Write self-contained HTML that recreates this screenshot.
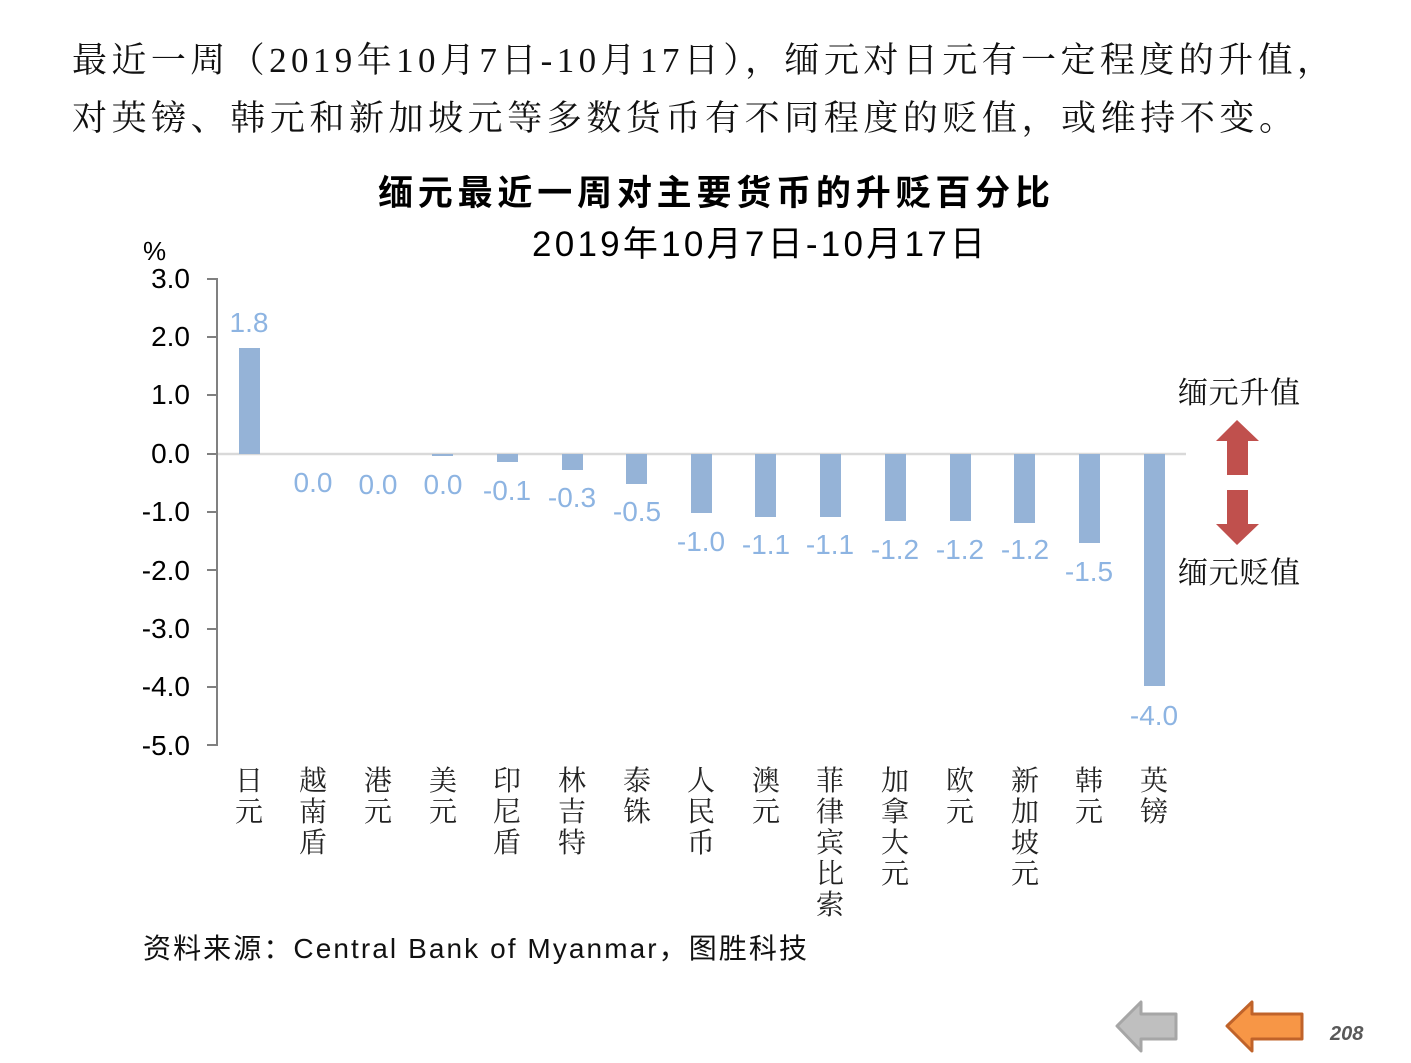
<!DOCTYPE html>
<html><head><meta charset="utf-8"><style>
body{margin:0;background:#fff;width:1411px;height:1058px;overflow:hidden}
</style></head><body>
<svg width="1411" height="1058" xmlns="http://www.w3.org/2000/svg" font-family="Liberation Sans, Noto Sans CJK SC, sans-serif">
<g font-family="Liberation Serif, Noto Serif CJK SC, serif" font-size="35" fill="#111">
<text x="72" y="72" textLength="1260" lengthAdjust="spacing">最近一周（2019年10月7日-10月17日），缅元对日元有一定程度的升值，</text>
<text x="72" y="130" textLength="1222" lengthAdjust="spacing">对英镑、韩元和新加坡元等多数货币有不同程度的贬值，或维持不变。</text>
</g>
<text x="378" y="205" font-size="35" font-weight="bold" textLength="672" lengthAdjust="spacing">缅元最近一周对主要货币的升贬百分比</text>
<text x="532" y="256" font-size="35" textLength="453" lengthAdjust="spacing">2019年10月7日-10月17日</text>
<text x="143" y="260" font-size="26">%</text>
<g font-size="28" text-anchor="end" fill="#000">
<text x="190" y="288">3.0</text><text x="190" y="346">2.0</text><text x="190" y="404">1.0</text><text x="190" y="463">0.0</text>
<text x="190" y="521">-1.0</text><text x="190" y="580">-2.0</text><text x="190" y="638">-3.0</text><text x="190" y="696">-4.0</text><text x="190" y="755">-5.0</text>
</g>
<g stroke="#808080" stroke-width="2">
<line x1="217" y1="278" x2="217" y2="746"/>
<line x1="207" y1="279" x2="217" y2="279"/><line x1="207" y1="337" x2="217" y2="337"/><line x1="207" y1="395" x2="217" y2="395"/><line x1="207" y1="454" x2="217" y2="454"/>
<line x1="207" y1="512" x2="217" y2="512"/><line x1="207" y1="570" x2="217" y2="570"/><line x1="207" y1="629" x2="217" y2="629"/><line x1="207" y1="687" x2="217" y2="687"/><line x1="207" y1="745" x2="217" y2="745"/>
</g>
<line x1="218" y1="454" x2="1186" y2="454" stroke="#d9d9d9" stroke-width="2.5"/>
<g fill="#95b3d7">
<rect x="239" y="348" width="21" height="106"/>
<rect x="432" y="454" width="21" height="2"/>
<rect x="497" y="454" width="21" height="8"/>
<rect x="562" y="454" width="21" height="16"/>
<rect x="626" y="454" width="21" height="30"/>
<rect x="691" y="454" width="21" height="59"/>
<rect x="755" y="454" width="21" height="63"/>
<rect x="820" y="454" width="21" height="63"/>
<rect x="885" y="454" width="21" height="67"/>
<rect x="950" y="454" width="21" height="67"/>
<rect x="1014" y="454" width="21" height="69"/>
<rect x="1079" y="454" width="21" height="89"/>
<rect x="1144" y="454" width="21" height="232"/>
</g>
<g font-size="28" fill="#8db4e2" text-anchor="middle">
<text x="249" y="332">1.8</text>
<text x="313" y="492">0.0</text><text x="378" y="494">0.0</text><text x="443" y="494">0.0</text>
<text x="507" y="500">-0.1</text><text x="572" y="507">-0.3</text><text x="637" y="521">-0.5</text>
<text x="701" y="551">-1.0</text><text x="766" y="554">-1.1</text><text x="830" y="554">-1.1</text>
<text x="895" y="559">-1.2</text><text x="960" y="559">-1.2</text><text x="1025" y="559">-1.2</text>
<text x="1089" y="581">-1.5</text><text x="1154" y="725">-4.0</text>
</g>
<g font-size="28" fill="#222" text-anchor="middle" font-family="Liberation Serif, Noto Serif CJK SC, serif">
<text x="249" y="790">日</text><text x="249" y="821">元</text>
<text x="313" y="790">越</text><text x="313" y="821">南</text><text x="313" y="852">盾</text>
<text x="378" y="790">港</text><text x="378" y="821">元</text>
<text x="443" y="790">美</text><text x="443" y="821">元</text>
<text x="507" y="790">印</text><text x="507" y="821">尼</text><text x="507" y="852">盾</text>
<text x="572" y="790">林</text><text x="572" y="821">吉</text><text x="572" y="852">特</text>
<text x="637" y="790">泰</text><text x="637" y="821">铢</text>
<text x="701" y="790">人</text><text x="701" y="821">民</text><text x="701" y="852">币</text>
<text x="766" y="790">澳</text><text x="766" y="821">元</text>
<text x="830" y="790">菲</text><text x="830" y="821">律</text><text x="830" y="852">宾</text><text x="830" y="883">比</text><text x="830" y="914">索</text>
<text x="895" y="790">加</text><text x="895" y="821">拿</text><text x="895" y="852">大</text><text x="895" y="883">元</text>
<text x="960" y="790">欧</text><text x="960" y="821">元</text>
<text x="1025" y="790">新</text><text x="1025" y="821">加</text><text x="1025" y="852">坡</text><text x="1025" y="883">元</text>
<text x="1089" y="790">韩</text><text x="1089" y="821">元</text>
<text x="1154" y="790">英</text><text x="1154" y="821">镑</text>
</g>
<g font-size="30" fill="#111" font-family="Liberation Serif, Noto Serif CJK SC, serif">
<text x="1178" y="403" textLength="122" lengthAdjust="spacing">缅元升值</text>
<text x="1178" y="583" textLength="122" lengthAdjust="spacing">缅元贬值</text>
</g>
<g fill="#c0504d">
<polygon points="1237,420 1259,441 1248,441 1248,475 1227,475 1227,441 1216,441"/>
<polygon points="1227,490 1248,490 1248,524 1259,524 1237,545 1216,524 1227,524"/>
</g>
<text x="143" y="958" font-size="28" fill="#111" textLength="664" lengthAdjust="spacing">资料来源：Central Bank of Myanmar，图胜科技</text>
<polygon points="1117,1026 1141,1002 1141,1014 1176,1014 1176,1039 1141,1039 1141,1051" fill="#bfbfbf" stroke="#a6a6a6" stroke-width="3" stroke-linejoin="round"/>
<polygon points="1227,1026 1252,1002 1252,1014 1302,1014 1302,1039 1252,1039 1252,1051" fill="#f79646" stroke="#c0632a" stroke-width="3" stroke-linejoin="round"/>
<text x="1330" y="1040" font-size="20" font-style="italic" font-weight="bold" fill="#595959">208</text>
</svg>
</body></html>
